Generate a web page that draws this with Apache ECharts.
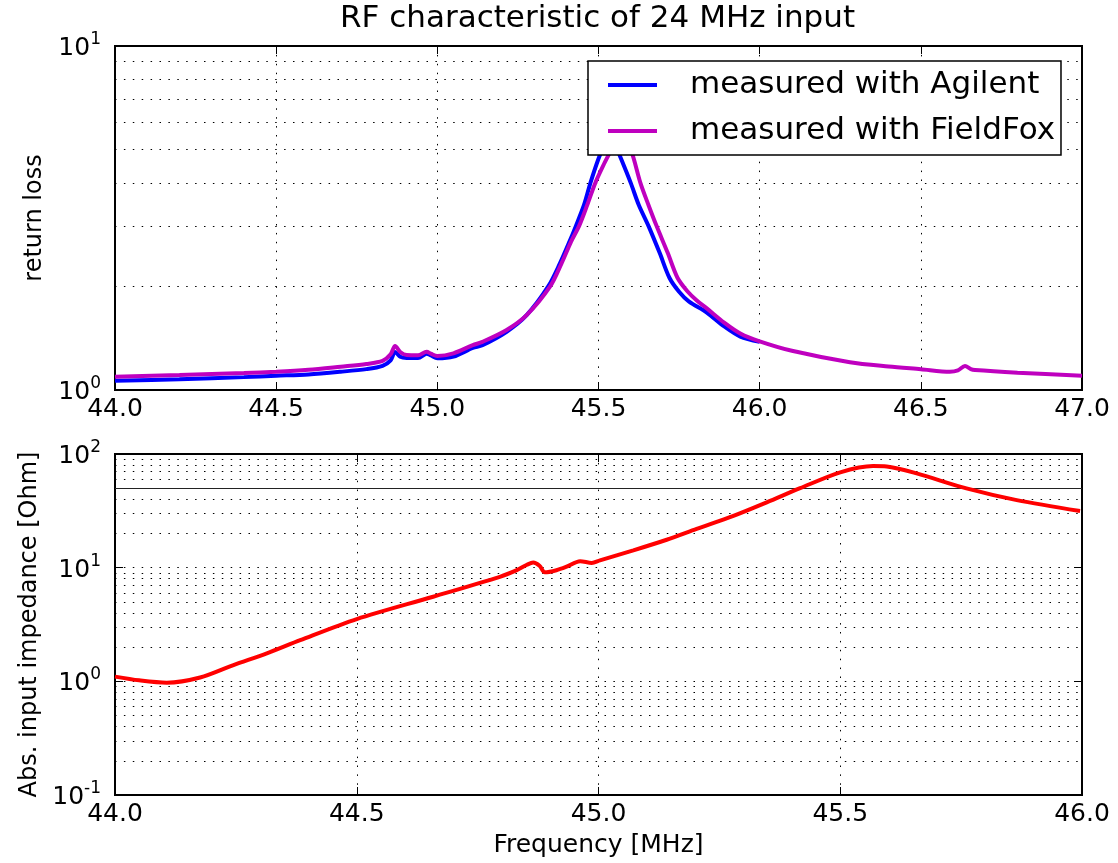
<!DOCTYPE html>
<html><head><meta charset="utf-8">
<script src="https://cdn.jsdelivr.net/npm/echarts@6/dist/echarts.min.js"></script>
<style>html,body{margin:0;padding:0;background:#fff}#c{width:1118px;height:863px}</style>
</head><body><div id="c"></div>
<script>
const titleText = 'RF characteristic of 24 MHz input';
const seriesNames = ['measured with Agilent', 'measured with FieldFox'];
const topYName = 'return loss';
const bottomYName = 'Abs. input impedance [Ohm]';
const xName = 'Frequency [MHz]';

const freqAgilent = [44.00, 44.20, 44.40, 44.50, 44.60, 44.70, 44.78, 44.83, 44.855, 44.869, 44.885, 44.905, 44.94, 44.967, 44.98, 45.00, 45.05, 45.11, 45.14, 45.215, 45.277, 45.344, 45.38, 45.41, 45.43, 45.455, 45.475, 45.50, 45.52, 45.535, 45.55, 45.57, 45.60, 45.625, 45.655, 45.69, 45.72, 45.75, 45.78, 45.836, 45.89, 45.94, 46.00];
const rlAgilent   = [1.064, 1.075, 1.09, 1.10, 1.11, 1.13, 1.15, 1.175, 1.22, 1.29, 1.25, 1.239, 1.238, 1.275, 1.26, 1.236, 1.25, 1.325, 1.35, 1.477, 1.65, 2.0, 2.33, 2.70, 3.0, 3.45, 4.0, 4.7, 5.2, 5.4, 5.2, 4.7, 4.0, 3.45, 3.0, 2.5, 2.12, 1.93, 1.81, 1.68, 1.53, 1.43, 1.38];

const freqFieldFox = [44.00, 44.20, 44.40, 44.50, 44.60, 44.70, 44.78, 44.83, 44.855, 44.869, 44.885, 44.905, 44.94, 44.967, 44.98, 45.00, 45.05, 45.11, 45.14, 45.215, 45.277, 45.35, 45.385, 45.415, 45.44, 45.465, 45.49, 45.515, 45.535, 45.555, 45.57, 45.585, 45.605, 45.63, 45.655, 45.68, 45.715, 45.745, 45.775, 45.805, 45.836, 45.89, 45.94, 46.00, 46.10, 46.28, 46.40, 46.50, 46.59, 46.615, 46.637, 46.655, 46.668, 46.80, 47.00];
const rlFieldFox   = [1.093, 1.105, 1.12, 1.13, 1.145, 1.169, 1.19, 1.215, 1.27, 1.343, 1.29, 1.264, 1.262, 1.292, 1.275, 1.255, 1.278, 1.35, 1.38, 1.494, 1.65, 2.0, 2.33, 2.70, 3.0, 3.45, 4.0, 4.5, 4.9, 5.35, 5.5, 5.35, 4.85, 4.0, 3.45, 3.0, 2.5, 2.12, 1.94, 1.82, 1.727, 1.57, 1.46, 1.385, 1.30, 1.204, 1.17, 1.149, 1.13, 1.14, 1.174, 1.15, 1.143, 1.123, 1.10];

const freqZ = [44.00, 44.05, 44.107, 44.176, 44.245, 44.314, 44.383, 44.50, 44.658, 44.796, 44.831, 44.852, 44.865, 44.878, 44.889, 44.913, 44.934, 44.962, 44.986, 45.003, 45.072, 45.141, 45.203, 45.279, 45.348, 45.417, 45.50, 45.568, 45.596, 45.658, 45.761, 45.865, 45.996];
const absZ  = [1.10, 1.02, 0.973, 1.08, 1.39, 1.76, 2.3, 3.53, 5.55, 8.3, 9.5, 10.6, 11.1, 10.4, 9.1, 9.5, 10.2, 11.4, 11.0, 11.6, 14.2, 17.6, 21.9, 28.5, 37.5, 50, 69, 78.4, 77.7, 67.5, 49.8, 39.3, 31.5];

const topMinorY = [2, 3, 4, 5, 6, 7, 8, 9];
const bottomMinorY = [0.2, 0.3, 0.4, 0.5, 0.6, 0.7, 0.8, 0.9, 2, 3, 4, 5, 6, 7, 8, 9, 20, 30, 40, 50, 60, 70, 80, 90];
const refImpedance = 50;

const FONT = 'DejaVu Sans';
const dotted = { color: '#000', width: 1, type: [1.5, 7.4] };
const zip = (xs, ys) => xs.map((x, i) => [x, ys[i]]);

function logLabel(v) {
  const e = Math.round(Math.log10(v));
  return '{b|10}{s|' + (e < 0 ? '-' + (-e) : e) + '}';
}
const richLabel = {
  b: { fontSize: 25, fontFamily: FONT, color: '#000', lineHeight: 30, verticalAlign: 'bottom' },
  s: { fontSize: 17, fontFamily: FONT, color: '#000', lineHeight: 30, verticalAlign: 'top' }
};

function xMain(grid, min, max, withName) {
  const ax = {
    gridIndex: grid, type: 'value', min: min, max: max, interval: 0.5, position: 'bottom',
    axisLine: { show: false },
    axisTick: { show: true, inside: true, length: 8, lineStyle: { color: '#000', width: 1 } },
    axisLabel: { fontSize: 25, fontFamily: FONT, color: '#000', margin: 7, formatter: v => v.toFixed(1) },
    splitLine: { show: true, lineStyle: dotted }
  };
  if (withName) {
    ax.name = xName; ax.nameLocation = 'middle'; ax.nameGap = 38;
    ax.nameTextStyle = { fontSize: 25, fontFamily: FONT, color: '#000' };
  }
  return ax;
}
function xTop(grid, min, max) {
  return {
    gridIndex: grid, type: 'value', min: min, max: max, interval: 0.5, position: 'top',
    axisLine: { show: false },
    axisTick: { show: true, inside: true, length: 8, lineStyle: { color: '#000', width: 1 } },
    axisLabel: { show: false }, splitLine: { show: false }
  };
}
function yMain(grid, min, max, name) {
  return {
    gridIndex: grid, type: 'log', logBase: 10, min: min, max: max, position: 'left',
    name: name, nameLocation: 'middle', nameGap: 68,
    nameTextStyle: { fontSize: 24, fontFamily: FONT, color: '#000' },
    axisLine: { show: false },
    axisTick: { show: true, inside: true, length: 8, lineStyle: { color: '#000', width: 1 } },
    axisLabel: { margin: 14, formatter: logLabel, rich: richLabel },
    splitLine: { show: true, lineStyle: dotted }
  };
}
function yRight(grid, min, max) {
  return {
    gridIndex: grid, type: 'log', logBase: 10, min: min, max: max, position: 'right',
    axisLine: { show: false },
    axisTick: { show: true, inside: true, length: 8, lineStyle: { color: '#000', width: 1 } },
    axisLabel: { show: false }, splitLine: { show: false }
  };
}
function minorLines(vals) {
  return {
    silent: true, symbol: 'none', z: 1, animation: false,
    label: { show: false },
    lineStyle: dotted,
    data: vals.map(v => ({ yAxis: v }))
  };
}

const chart = echarts.init(document.getElementById('c'), null, { renderer: 'canvas' });
const bottomMarks = minorLines(bottomMinorY);
bottomMarks.data.push({ yAxis: refImpedance, lineStyle: { color: '#222', width: 1.2, type: 'solid' } });

const lineCommon = { type: 'line', symbol: 'none', showSymbol: false, smooth: 0.3 };

chart.setOption({
  animation: false,
  backgroundColor: '#fff',
  title: {
    text: titleText, left: 340, top: 3, padding: 0,
    textStyle: { fontSize: 31, fontWeight: 'normal', fontFamily: FONT, color: '#000' }
  },
  legend: {
    data: seriesNames, orient: 'vertical', left: 588, top: 61,
    padding: [6, 6, 6, 20], itemWidth: 49, itemHeight: 4, itemGap: 10, icon: 'rect',
    selectedMode: false,
    backgroundColor: '#fff', borderColor: '#000', borderWidth: 1.5, borderRadius: 0,
    textStyle: { fontSize: 31, fontFamily: FONT, color: '#000', lineHeight: 36, padding: [0, 0, 0, 28] },
    z: 10
  },
  grid: [
    { left: 115, top: 46, width: 967, height: 344, show: true, borderColor: '#000', borderWidth: 2, backgroundColor: 'transparent' },
    { left: 115, top: 454, width: 967, height: 341, show: true, borderColor: '#000', borderWidth: 2, backgroundColor: 'transparent' }
  ],
  xAxis: [xMain(0, 44, 47, false), xTop(0, 44, 47), xMain(1, 44, 46, true), xTop(1, 44, 46)],
  yAxis: [yMain(0, 1, 10, topYName), yRight(0, 1, 10), yMain(1, 0.1, 100, bottomYName), yRight(1, 0.1, 100)],
  series: [
    Object.assign({}, lineCommon, {
      name: seriesNames[0], xAxisIndex: 0, yAxisIndex: 0,
      data: zip(freqAgilent, rlAgilent),
      itemStyle: { color: '#0000ff' }, lineStyle: { color: '#0000ff', width: 4 }, z: 3,
      markLine: minorLines(topMinorY)
    }),
    Object.assign({}, lineCommon, {
      name: seriesNames[1], xAxisIndex: 0, yAxisIndex: 0,
      data: zip(freqFieldFox, rlFieldFox),
      itemStyle: { color: '#bf00bf' }, lineStyle: { color: '#bf00bf', width: 4 }, z: 4
    }),
    Object.assign({}, lineCommon, {
      name: '|Z|', xAxisIndex: 2, yAxisIndex: 2,
      data: zip(freqZ, absZ),
      itemStyle: { color: '#ff0000' }, lineStyle: { color: '#ff0000', width: 4 }, z: 3,
      markLine: bottomMarks
    })
  ]
});
</script>
</body></html>
